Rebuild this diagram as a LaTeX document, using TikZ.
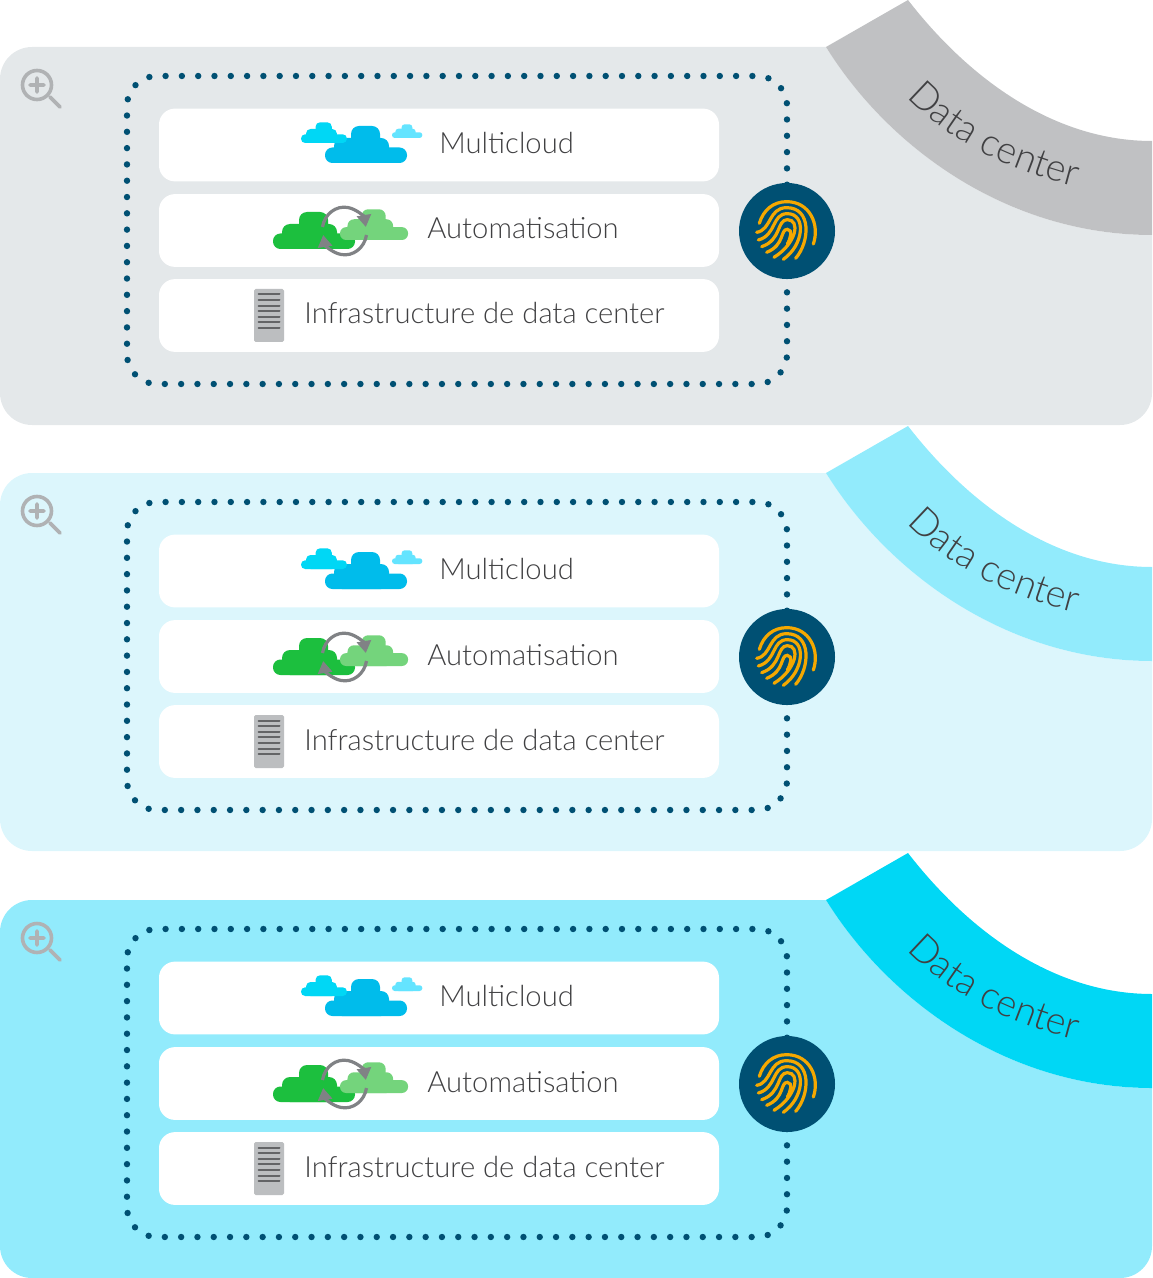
\documentclass[tikz,border=0pt]{standalone}
\usepackage{fontspec}
\setmainfont{Lato}[UprightFont=* Light]
\usetikzlibrary{arrows.meta,decorations.text}
\definecolor{navy}{HTML}{005073}
\definecolor{amber}{HTML}{F5A800}
\definecolor{inkgray}{HTML}{404042}
\definecolor{lensgray}{HTML}{B0B2B4}
\definecolor{ringgray}{HTML}{808285}
\definecolor{servergray}{HTML}{BCBEC0}
\definecolor{slatgray}{HTML}{636466}
\definecolor{panelA}{HTML}{E4E8EA}\definecolor{panelB}{HTML}{DCF6FC}\definecolor{panelC}{HTML}{92EBFC}
\definecolor{bandA}{HTML}{C0C1C3}\definecolor{bandB}{HTML}{92EBFC}\definecolor{bandC}{HTML}{00D7F5}
\definecolor{skyblue}{HTML}{00BCEB}\definecolor{skypale}{HTML}{64E4FF}\definecolor{leafdark}{HTML}{1CBF3E}\definecolor{leaflight}{HTML}{74D47C}
\tikzset{
rowbox/.style={fill=white,rounded corners=8pt,minimum width=280pt,minimum height=36.4pt,inner sep=0pt},
rowtext/.style={anchor=base west,inner sep=0pt,text=inkgray,font=\fontsize{14.6}{18}\selectfont},
printnode/.style={circle,fill=navy,minimum size=48pt,inner sep=0pt},
ridge/.style={amber,line width=1.6pt,line cap=round},
ringarc/.style={ringgray,line width=1.6pt,-{Triangle[length=6pt,width=7pt]}}
}
\newcommand{\cloudat}[4]{\begin{scope}[shift={(#1,#2)},scale=#3]
\fill[#4,rounded corners=3.7pt*#3](0,-15.5)rectangle(82,0);\fill[#4,rounded corners=4pt*#3](9,-25)rectangle(64,0);\fill[#4,rounded corners=4pt*#3](26,-37)rectangle(55,-10);
\end{scope}}
\begin{document}
\begin{tikzpicture}[x=.5pt,y=-.5pt]
\useasboundingbox(0,0)rectangle(1152,1278);
\foreach\off/\pcol/\bcol in{0/panelA/bandA,426/panelB/bandB,853/panelC/bandC}{
\begin{scope}[shift={(0,\off)}]
\fill[\pcol](826,47)[rounded corners=16pt]--(0,47)--(0,425)--(1152,425)--(1152,280)[sharp corners]--(1152,235)..controls(1010,235)and(890,150)..(826,47)--cycle;
\fill[\bcol](826,47)--(908,0)..controls(970,80)and(1055,141)..(1152,141)--(1152,235)..controls(1010,235)and(890,150)..(826,47)--cycle;
\path[decorate,decoration={text along path,text align=left,text={|\fontsize{19}{22}\selectfont\color{inkgray}|Data center}}](907,97)..controls(947,140)and(1007,170)..(1084,189);
\draw[lensgray,line width=1.8pt](37,85)circle(14.5);
\draw[lensgray,line width=1.8pt,line cap=round](50,97)--(60,107)(30,85)--(44,85)(37,78)--(37,92);
\draw[navy,line width=3.2pt,line cap=round,dash pattern=on 0pt off 8.15pt,rounded corners=15pt](787,231)--(787,76)--(127,76)--(127,384)--(787,384)--cycle;
\node[rowbox](cloudrow)at(439,145){};\node[rowbox](autorow)at(439,230.5){};\node[rowbox](inforow)at(439,315.5){};
\node[rowtext](cloudtext)at(439,153.5){Multicloud};\node[rowtext](autotext)at(427,239){Automatisation};\node[rowtext](infotext)at(304,324){Infrastructure de data center};
\cloudat{325}{163}{1}{skyblue}\cloudat{301}{143}{.56}{bandC}\cloudat{392}{138}{.37}{skypale}
\cloudat{273}{249}{1}{leafdark}\cloudat{340}{240}{.83}{leaflight}
\draw[ringarc](322.5,227)arc[start angle=190,end angle=350,x radius=22,y radius=24];
\draw[ringarc](366.5,235)arc[start angle=10,end angle=170,x radius=22,y radius=24];
\fill[servergray,rounded corners=.8pt](254,289)rectangle(284,342);
\foreach\s in{0,...,6}{\draw[slatgray,line width=1pt,line cap=round](258.5,294.5+5.6*\s)--(279.5,294.5+5.6*\s);}
\node[printnode](printmark)at(787,231){};
\begin{scope}[shift={(730,170)},scale=.3333]
\draw[ridge](88,160)..controls(100,120)and(130,95)..(170,95)..controls(240,95)and(270,165)..(250,222);
\draw[ridge](80,187)..controls(125,180)and(115,113)..(170,113)..controls(245,113)and(240,215)..(197,265);
\draw[ridge](85,210)..controls(140,195)and(125,131)..(172,131)..controls(230,131)and(222,225)..(160,268);
\draw[ridge](95,230)..controls(155,210)and(140,149)..(172,149)..controls(212,149)and(200,220)..(132,262);
\draw[ridge](110,247)..controls(165,225)and(150,178)..(172,178)..controls(190,178)and(180,210)..(172,222);
\end{scope}
\end{scope}}
\end{tikzpicture}
\end{document}
